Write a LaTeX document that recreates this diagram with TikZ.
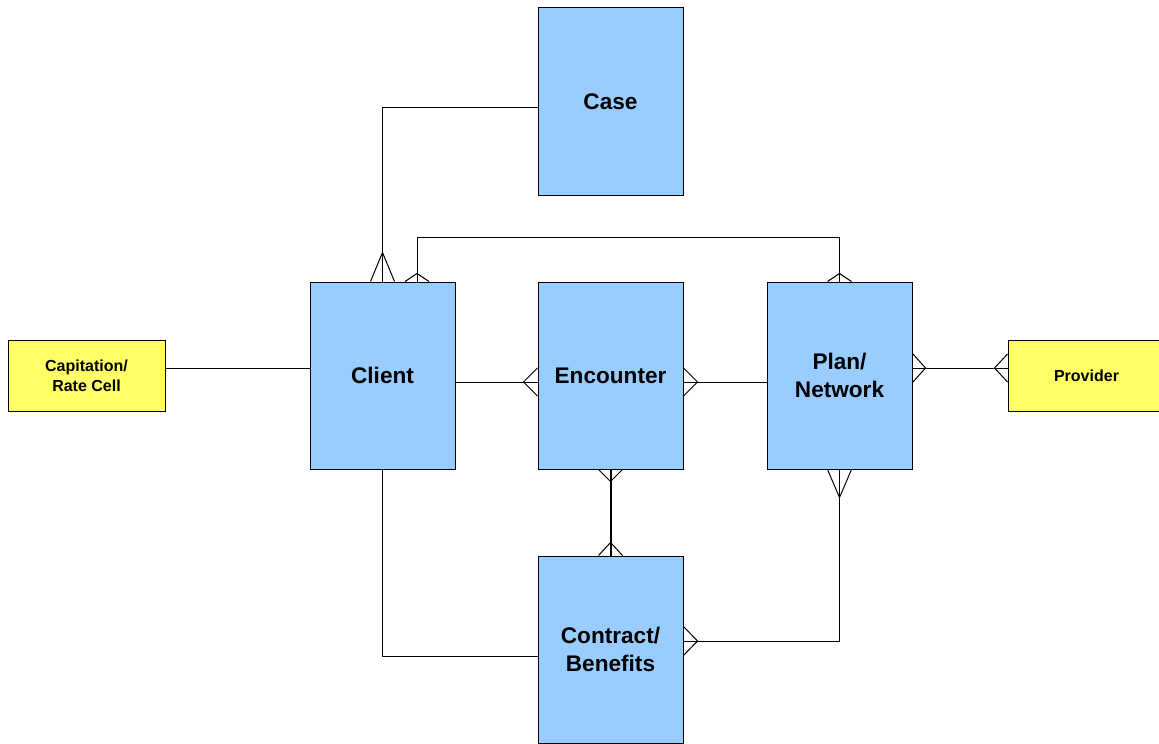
\documentclass[tikz,border=0pt]{standalone}
\usepackage{fontspec}
\setmainfont{Liberation Sans}
\usepackage{tikz}
\usetikzlibrary{calc}
\definecolor{entblue}{RGB}{153,204,255}
\definecolor{refyellow}{RGB}{255,255,102}

\tikzset{
  entity/.style={draw, fill=entblue, line width=0.5pt, minimum width=72.5pt, minimum height=93.5pt,
    align=center, font=\bfseries\fontsize{11.3}{14}\selectfont},
  lookup/.style={draw, fill=refyellow, line width=0.5pt, minimum width=78.5pt, minimum height=35.5pt,
    align=center, font=\bfseries\fontsize{8}{10}\selectfont},
  link/.style={line width=0.5pt},
}

\begin{document}
\begin{tikzpicture}[x=0.5pt,y=-0.5pt]
	\useasboundingbox (0,0) rectangle (1159,743);

 % ================================================================
 % entities
 % ================================================================
	\node[entity] (case) at (610.5,101.5) {Case};
	\node[entity] (client) at (382.5,375.5) {Client};
	\node[entity] (enc) at (610.5,375.5) {Encounter};
	\node[entity] (plan) at (839.5,375.5) {Plan/\\Network};
	\node[entity] (contract) at (610.5,649.5) {Contract/\\Benefits};
	\node[lookup] (cap) at (86.5,375.5) {Capitation/\\Rate Cell};
	\node[lookup] (prov) at (1086.5,375.5) {Provider};

 % ================================================================
 % relationships
 % ================================================================
	% case -- client
	\draw[link] ([yshift=-3.25pt]case.west) -| (client.north);
	\draw[link] ([xshift=-6pt]client.north) -- ++(12,-29) -- ++(12,29);
	% client -- plan
	\draw[link] ([xshift=17.25pt]client.north) -- ++(0,-44) -| (plan.north);
	\draw[link] ([xshift=11.25pt]client.north) -- ++(12,-8) -- ++(12,8);
	\draw[link] ([xshift=-6pt]plan.north) -- ++(12,-8) -- ++(12,8);
	% capitation -- client
	\coordinate (capline) at ([yshift=3.75pt]cap.east);
	\draw[link] (capline) -- (capline -| client.west);
	% client -- encounter -- plan
	\coordinate (encline) at ([yshift=-3.25pt]client.east);
	\draw[link] (encline) -- (encline -| enc.west);
	\draw[link] ([yshift=7pt]enc.west |- encline) -- ++(-14,14) -- ++(14,14);
	\draw[link] (encline -| enc.east) -- (encline -| plan.west);
	\draw[link] ([yshift=7pt]enc.east |- encline) -- ++(14,14) -- ++(-14,14);
	% plan -- provider
	\coordinate (provline) at ([yshift=3.75pt]plan.east);
	\draw[link] (provline) -- (provline -| prov.west);
	\draw[link] ([yshift=7.25pt]provline) -- ++(13,14.5) -- ++(-13,14.5);
	\draw[link] ([yshift=7pt]provline -| prov.west) -- ++(-13,14) -- ++(13,14);
	% encounter -- contract
	\draw[line width=1pt] (enc.south) -- (contract.north);
	\draw[link] ([xshift=-6pt]enc.south) -- ++(12,12) -- ++(12,-12);
	\draw[link] ([xshift=-6pt]contract.north) -- ++(12,-13) -- ++(12,13);
	% plan -- contract
	\coordinate (conline) at ([yshift=4.25pt]contract.east);
	\draw[link] (plan.south) |- (conline);
	\draw[link] ([xshift=-6pt]plan.south) -- ++(12,28) -- ++(12,-28);
	\draw[link] ([yshift=7.25pt]conline) -- ++(14,14.5) -- ++(-14,14.5);
	% client -- contract
	\coordinate (benline) at ([yshift=-3.25pt]contract.west);
	\draw[link] (client.south) |- (benline);

\end{tikzpicture}
\end{document}
